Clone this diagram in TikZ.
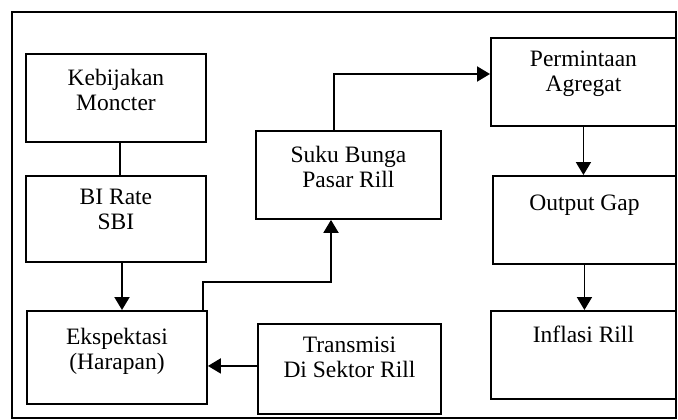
\documentclass[tikz,border=0pt]{standalone}
\usepackage{fontspec}
\setmainfont{Liberation Serif}
\usetikzlibrary{arrows.meta,calc}
\newcommand\bxtext[4]{\parbox[c][#2pt][t]{#1pt}{\centering\vspace*{#3pt}#4\par}}
\begin{document}
\begin{tikzpicture}[x=1pt,y=-1pt,
  box/.style={draw, line width=1.9pt, inner sep=0pt, anchor=north west,
    font=\fontsize{23.5}{25}\selectfont},
  conn/.style={line width=1.9pt},
  arr/.style={line width=1.9pt, -{Triangle[length=13pt,width=15pt]}},
  frame/.style={line width=1.6pt}]
\useasboundingbox (0,0) rectangle (678,420);
\draw[frame] (12,12) rectangle (676,418);
\node[box] (kb) at (25,53) {\bxtext{180}{88}{15}{Kebijakan\\Moncter}};
\node[box] (bi) at (25,175) {\bxtext{180}{86}{13}{BI Rate\\SBI}};
\node[box] (ek) at (26,310) {\bxtext{180}{93}{17}{Ekspektasi\\(Harapan)}};
\node[box] (sb) at (255,130) {\bxtext{185}{88}{15}{Suku Bunga\\Pasar Rill}};
\node[box] (tr) at (257,323) {\bxtext{183}{90}{13}{Transmisi\\Di Sektor Rill}};
\node[box] (pm) at (490,37) {\bxtext{185}{88}{13}{Permintaan\\Agregat}};
\node[box] (og) at (492,175) {\bxtext{183}{88}{19}{Output Gap}};
\node[box] (inf) at (490,310) {\bxtext{185}{88}{15}{Inflasi Rill}};
\draw[conn] ($(kb.south west)+(95,0)$) -- ($(bi.north west)+(95,0)$);
\draw[arr] ($(bi.south west)+(97,0)$) -- ($(ek.north west)+(96,0)$);
\draw[arr] ($(ek.north east)+(-5,0)$) -- ++(0,-28) -| ($(sb.south west)+(76,0)$);
\draw[arr] ($(sb.north west)+(79,0)$) |- ($(pm.north west)+(0,37)$);
\draw[arr] ([yshift=3pt]tr.west) -- ([yshift=3pt]tr.west -| ek.east);
\draw[arr] (pm.south) -- (pm.south |- og.north);
\draw[arr] (og.south) -- (og.south |- inf.north);
\end{tikzpicture}
\end{document}
